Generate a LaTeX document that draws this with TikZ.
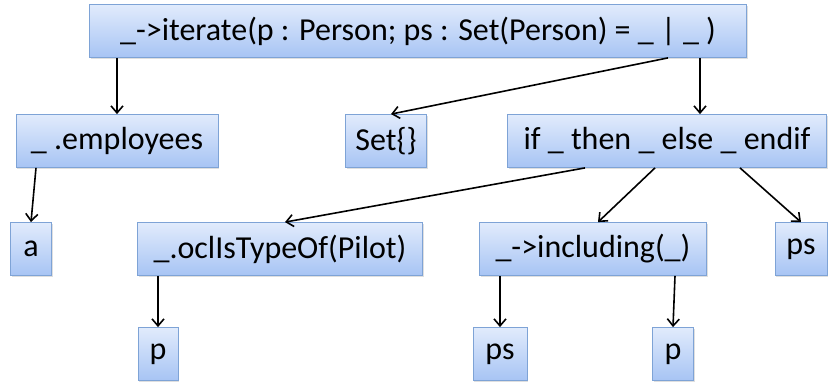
\documentclass[tikz,border=0pt]{standalone}
\usepackage{fontspec}
\setmainfont{Carlito}
\usetikzlibrary{arrows.meta,shadows}
\definecolor{boxtop}{HTML}{E1EBFC}
\definecolor{boxbot}{HTML}{A7C4F4}
\definecolor{boxline}{HTML}{7EA3D6}
\begin{document}
\begin{tikzpicture}[x=1pt,y=-1pt,
  every node/.style={rectangle,draw=boxline,line width=0.8pt,
    top color=boxtop,bottom color=boxbot,minimum height=53pt,
    inner sep=0pt,font=\fontsize{32}{36}\selectfont,
    drop shadow={opacity=0.25,shadow xshift=1pt,shadow yshift=-1.5pt}},
  arr/.style={-{Straight Barb[length=7pt,width=12pt]},line width=1.6pt}]
      \useasboundingbox (0,0) rectangle (835,383);
      \node [minimum width=657pt] (iter) at (418,31)
        {\_->iterate(p : Person; ps : Set(Person) = \_ | \_ )};
      \node [minimum width=202pt] (employees) at (117,141) {\_ .employees};
      \node [minimum width=81pt] (emptyset) at (386,141) {Set\{\}};
      \node [minimum width=319pt] (ifnode) at (667,141) {if \_ then \_ else \_ endif};
      \node [minimum width=41pt] (a) at (31,249) {a};
      \node [minimum width=285pt] (ocl) at (280,249) {\_.oclIsTypeOf(Pilot)};
      \node [minimum width=227pt] (incl) at (593,249) {\_->including(\_)};
      \node [minimum width=52pt] (ps1) at (801,249) {ps};
      \node [minimum width=40pt] (p1) at (158,354) {p};
      \node [minimum width=54pt] (ps2) at (500,354) {ps};
      \node [minimum width=41pt] (p2) at (673,354) {p};

      \draw [arr] (iter.south -| employees) -- (employees.north);
      \draw [arr] ([xshift=250pt]iter.south) -- ([xshift=5pt]emptyset.north);
      \draw [arr] ([xshift=282pt]iter.south) -- ([xshift=33pt]ifnode.north);
      \draw [arr] ([xshift=-81pt]employees.south) -- (a.north);
      \draw [arr] ([xshift=-82pt]ifnode.south) -- ([xshift=5pt]ocl.north);
      \draw [arr] ([xshift=-12pt]ifnode.south) -- ([xshift=5pt]incl.north);
      \draw [arr] ([xshift=73pt]ifnode.south) -- (ps1.north);
      \draw [arr] (ocl.south -| p1) -- (p1.north);
      \draw [arr] (incl.south -| ps2) -- (ps2.north);
      \draw [arr] ([xshift=82pt]incl.south) -- (p2.north);
    \end{tikzpicture}
\end{document}
